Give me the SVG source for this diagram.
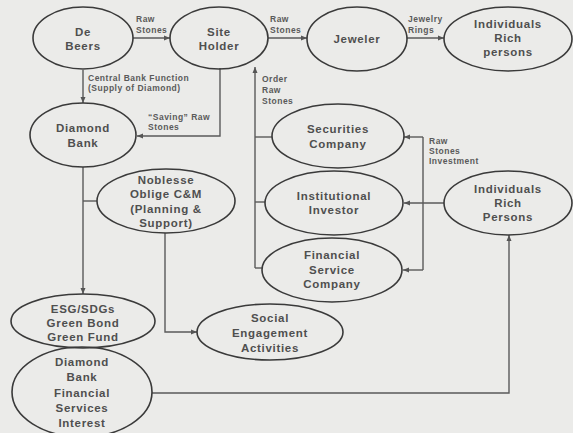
<svg xmlns="http://www.w3.org/2000/svg" width="573" height="433" viewBox="0 0 573 433">
<defs>
<marker id="ah" markerWidth="6" markerHeight="6" refX="6" refY="3" orient="auto" markerUnits="userSpaceOnUse">
<path d="M0,0.5 L6,3 L0,5.5 Z" fill="#555"/>
</marker>
<style>
.n ellipse{fill:none;stroke:#3a3a3a;stroke-width:1.6}
.n text{font-family:"Liberation Sans",Arial,sans-serif;font-size:11.5px;font-weight:bold;letter-spacing:0.7px;fill:#4f4f4f;text-anchor:middle}
.c path{fill:none;stroke:#5a5a5a;stroke-width:1.4}
.l{font-family:"Liberation Sans",Arial,sans-serif;font-size:8.5px;font-weight:bold;letter-spacing:0.5px;fill:#5a5a5a}
</style>
</defs>
<rect width="573" height="433" fill="#ebebe9"/>
<g class="c">
<path d="M133,38 H170" marker-end="url(#ah)"/>
<path d="M268,38 H307" marker-end="url(#ah)"/>
<path d="M407,38 H444" marker-end="url(#ah)"/>
<path d="M83,70 V103" marker-end="url(#ah)"/>
<path d="M220,68 V136 H137" marker-end="url(#ah)"/>
<path d="M255,268 V67" marker-end="url(#ah)"/>
<path d="M255,137 H272"/>
<path d="M255,202 H265"/>
<path d="M255,268 H262"/>
<path d="M444,203 H404" marker-end="url(#ah)"/>
<path d="M423,137 V270"/>
<path d="M423,137 H404" marker-end="url(#ah)"/>
<path d="M423,270 H403" marker-end="url(#ah)"/>
<path d="M83,167 V294" marker-end="url(#ah)"/>
<path d="M83,201 H97"/>
<path d="M165,233 V332 H197" marker-end="url(#ah)"/>
<path d="M152,393 H509 V235" marker-end="url(#ah)"/>
</g>
<g class="l">
<text x="136" y="22">Raw</text><text x="136" y="32.5">Stones</text>
<text x="270" y="22">Raw</text><text x="270" y="32.5">Stones</text>
<text x="408" y="22">Jewelry</text><text x="408" y="32.5">Rings</text>
<text x="88" y="80.5">Central Bank Function</text><text x="88" y="91">(Supply of Diamond)</text>
<text x="148" y="119.5">“Saving” Raw</text><text x="148" y="130">Stones</text>
<text x="262" y="82">Order</text><text x="262" y="93">Raw</text><text x="262" y="104">Stones</text>
<text x="429" y="144">Raw</text><text x="429" y="154">Stones</text><text x="429" y="164">Investment</text>
</g>
<g id="debeers" class="n"><ellipse cx="83" cy="38" rx="50" ry="31"/><text x="83" y="36">De</text><text x="83" y="50">Beers</text></g>
<g id="siteholder" class="n"><ellipse cx="219" cy="38" rx="49" ry="31"/><text x="219" y="36">Site</text><text x="219" y="50">Holder</text></g>
<g id="jeweler" class="n"><ellipse cx="357" cy="39" rx="50" ry="32"/><text x="357" y="42.5">Jeweler</text></g>
<g id="rich1" class="n"><ellipse cx="508" cy="39" rx="64" ry="32"/><text x="508" y="28">Individuals</text><text x="508" y="42">Rich</text><text x="508" y="56">persons</text></g>
<g id="diamondbank" class="n"><ellipse cx="83" cy="135" rx="53" ry="32"/><text x="83" y="132">Diamond</text><text x="83" y="147">Bank</text></g>
<g id="securities" class="n"><ellipse cx="338" cy="136" rx="66" ry="32"/><text x="338" y="133">Securities</text><text x="338" y="148">Company</text></g>
<g id="institutional" class="n"><ellipse cx="334" cy="203" rx="69" ry="32"/><text x="334" y="200">Institutional</text><text x="334" y="214">Investor</text></g>
<g id="financial" class="n"><ellipse cx="332" cy="270" rx="70" ry="32"/><text x="332" y="259">Financial</text><text x="332" y="274">Service</text><text x="332" y="288">Company</text></g>
<g id="rich2" class="n"><ellipse cx="508" cy="203" rx="64" ry="32"/><text x="508" y="193">Individuals</text><text x="508" y="207">Rich</text><text x="508" y="221">Persons</text></g>
<g id="noblesse" class="n"><ellipse cx="166" cy="201" rx="69" ry="32"/><text x="166" y="183.5">Noblesse</text><text x="166" y="198">Oblige C&amp;M</text><text x="166" y="213">(Planning &amp;</text><text x="166" y="227">Support)</text></g>
<g id="esg" class="n"><ellipse cx="83" cy="321" rx="72" ry="27"/><text x="83" y="313">ESG/SDGs</text><text x="83" y="327">Green Bond</text><text x="83" y="341">Green Fund</text></g>
<g id="social" class="n"><ellipse cx="270" cy="332" rx="73" ry="28"/><text x="270" y="322">Social</text><text x="270" y="337">Engagement</text><text x="270" y="352">Activities</text></g>
<g id="dbfsi" class="n"><ellipse cx="82" cy="392" rx="70" ry="45"/><text x="82" y="366">Diamond</text><text x="82" y="381">Bank</text><text x="82" y="397">Financial</text><text x="82" y="412">Services</text><text x="82" y="426.5">Interest</text></g>
</svg>
